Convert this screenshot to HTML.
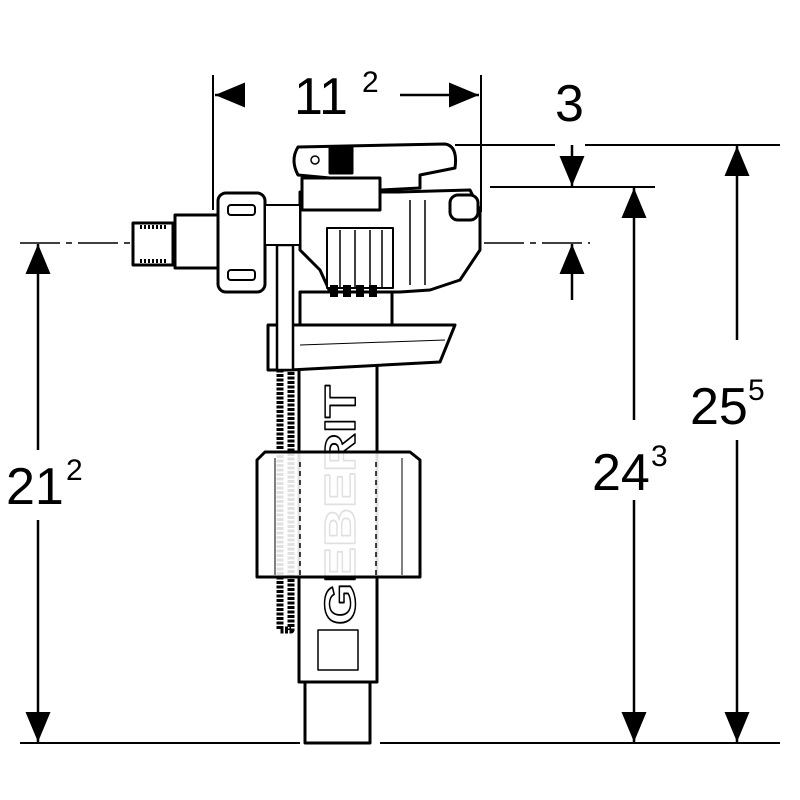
<!DOCTYPE html>
<html><head><meta charset="utf-8"><style>html,body{margin:0;padding:0;background:#fff}svg{display:block}</style></head>
<body>
<svg width="800" height="800" viewBox="0 0 800 800" xmlns="http://www.w3.org/2000/svg" font-family="Liberation Sans, sans-serif">
<defs>
<marker id="a" viewBox="0 0 12 10" refX="12" refY="5" markerWidth="30" markerHeight="25" markerUnits="userSpaceOnUse" orient="auto"><path d="M0,0 L12,5 L0,10 z" fill="#000"/></marker>
</defs>
<g stroke="#000" stroke-width="2" fill="none">
<line x1="213" y1="75" x2="213" y2="210"/>
<line x1="481" y1="75" x2="481" y2="212"/>
<line x1="455" y1="145" x2="555" y2="145"/>
<line x1="585" y1="145" x2="780" y2="145"/>
<line x1="490" y1="187" x2="655" y2="187"/>
<line x1="20" y1="743" x2="300" y2="743"/>
<line x1="380" y1="743" x2="780" y2="743"/>
<line x1="20" y1="243" x2="590" y2="243" stroke-width="1.5" stroke-dasharray="40,6,6,6"/>
<line x1="245" y1="95" x2="215" y2="95" marker-end="url(#a)" stroke-width="2.5"/>
<line x1="400" y1="95" x2="479" y2="95" marker-end="url(#a)" stroke-width="2.5"/>
<line x1="572" y1="145" x2="572" y2="186" marker-end="url(#a)" stroke-width="2.5"/>
<line x1="572" y1="300" x2="572" y2="244" marker-end="url(#a)" stroke-width="2.5"/>
<line x1="737" y1="340" x2="737" y2="146" marker-end="url(#a)" stroke-width="2.5"/>
<line x1="737" y1="440" x2="737" y2="742" marker-end="url(#a)" stroke-width="2.5"/>
<line x1="634" y1="420" x2="634" y2="188" marker-end="url(#a)" stroke-width="2.5"/>
<line x1="634" y1="500" x2="634" y2="742" marker-end="url(#a)" stroke-width="2.5"/>
<line x1="38" y1="450" x2="38" y2="244" marker-end="url(#a)" stroke-width="2.5"/>
<line x1="38" y1="520" x2="38" y2="742" marker-end="url(#a)" stroke-width="2.5"/>
</g>
<g fill="#000" font-size="52">
<text x="294" y="114">11</text><text x="362" y="92" font-size="30">2</text>
<text x="555" y="121">3</text>
<text x="690" y="424">25</text><text x="748" y="400" font-size="30">5</text>
<text x="592" y="490">24</text><text x="651" y="466" font-size="30">3</text>
<text x="6" y="504">21</text><text x="66" y="480" font-size="30">2</text>
</g>
<g stroke="#000" stroke-width="3" fill="#fff" stroke-linejoin="round">
<rect x="305" y="682" width="65" height="61"/>
<rect x="299" y="360" width="78" height="322"/>
<rect x="318" y="630" width="40" height="40" stroke-width="1.5"/>
<text x="0" y="0" transform="translate(355,625) rotate(-90)" font-size="44" fill="#fff" stroke="#000" stroke-width="1.5" font-weight="bold" textLength="240" lengthAdjust="spacingAndGlyphs">GEBERIT</text>
<rect x="280" y="365" width="11" height="265" stroke-width="7" stroke-dasharray="3,1.5"/>
<path d="M257,460 L265,452 L410,452 L420,460 L420,577 L257,577 Z" fill="#fff" fill-opacity="0.88"/>
<g stroke-width="1.5" stroke-dasharray="5,4"><line x1="300" y1="462" x2="300" y2="575"/><line x1="376" y1="462" x2="376" y2="575"/></g>
<line x1="275" y1="458" x2="275" y2="575" stroke-width="1"/><line x1="402" y1="458" x2="402" y2="575" stroke-width="1"/>
<path d="M268,325 L455,325 L440,362 L290,370 L268,370 Z"/>
<line x1="300" y1="345" x2="445" y2="340" stroke-width="1"/>
<rect x="300" y="292" width="92" height="33"/>
<rect x="277" y="245" width="16" height="125" stroke-width="2.5"/>
<path d="M300,192 L398,192 L470,190 L480,210 L480,250 L460,280 L430,290 L400,292 L330,292 L320,270 L300,250 Z"/>
<rect x="327" y="228" width="66" height="60" stroke-width="2"/>
<g stroke-width="1.5"><line x1="340" y1="230" x2="340" y2="288"/><line x1="355" y1="230" x2="355" y2="288"/><line x1="370" y1="230" x2="370" y2="288"/><line x1="382" y1="230" x2="382" y2="288"/><line x1="410" y1="200" x2="410" y2="285"/><line x1="425" y1="200" x2="425" y2="285"/></g>
<rect x="450" y="195" width="28" height="25" rx="8"/>
<g fill="#000" stroke="none"><rect x="330" y="285" width="8" height="12"/><rect x="343" y="285" width="8" height="12"/><rect x="356" y="285" width="8" height="12"/><rect x="369" y="285" width="8" height="12"/></g>
<path d="M302,190 L302,178 L380,178 L380,210 L302,210 Z"/>
<path d="M298,147 L445,144 Q458,146 455,168 L420,175 L420,188 L380,190 L380,178 L330,178 L298,175 Q290,160 298,147 Z"/>
<circle cx="315" cy="160" r="4" stroke-width="1.5"/>
<rect x="330" y="148" width="22" height="25" fill="#000"/>
<rect x="133" y="223" width="40" height="42"/>
<g stroke-width="4" stroke-dasharray="2,2"><line x1="140" y1="227" x2="168" y2="227"/><line x1="140" y1="261" x2="168" y2="261"/></g>
<rect x="175" y="215" width="43" height="53"/>
<rect x="218" y="193" width="47" height="99" rx="8"/>
<rect x="228" y="205" width="27" height="10" rx="3" stroke-width="2"/>
<rect x="228" y="270" width="27" height="10" rx="3" stroke-width="2"/>
<rect x="265" y="205" width="35" height="40" stroke-width="2"/>
</g>
</svg>
</body></html>
